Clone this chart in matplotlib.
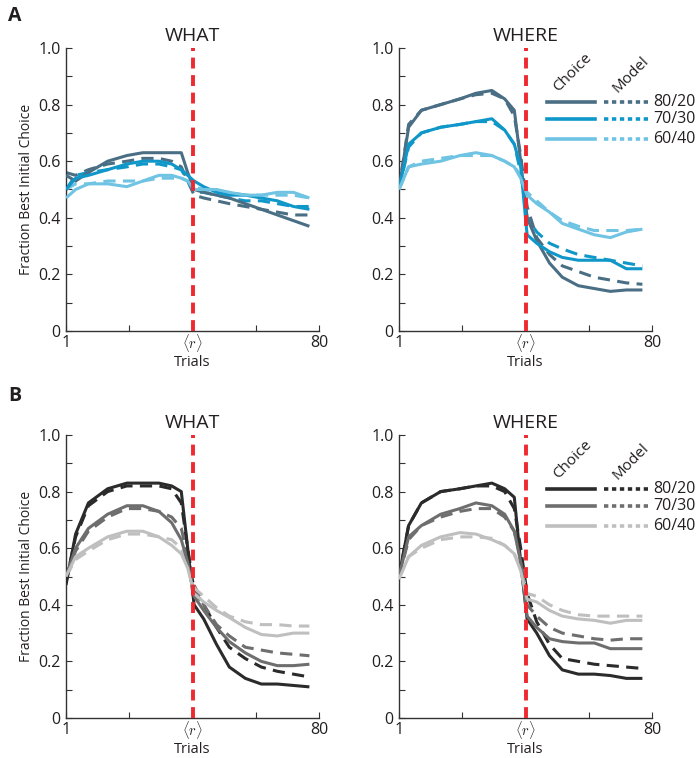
import numpy as np
import matplotlib
matplotlib.use('Agg')
import matplotlib.pyplot as plt
import matplotlib.transforms as mtransforms

plt.rcParams['font.family'] = ['Open Sans', 'DejaVu Sans']
plt.rcParams['mathtext.fontset'] = 'cm'

# Trial positions where the curves were sampled (reversal near trial 40)
trials = [1, 4, 8, 14, 20, 25, 30, 34, 37, 39, 41, 44, 48, 52, 57, 62, 67, 72, 77]
reversal = 40.5
conditions = ['80/20', '70/30', '60/40']

# Panel A (WHAT / WHERE), choice and model curves per condition
a_what_choice = [
    [0.55, 0.53, 0.56, 0.60, 0.62, 0.63, 0.63, 0.63, 0.63, 0.56, 0.50, 0.49, 0.48, 0.47, 0.45, 0.43, 0.41, 0.39, 0.37],
    [0.50, 0.54, 0.55, 0.57, 0.59, 0.60, 0.60, 0.59, 0.57, 0.55, 0.53, 0.51, 0.49, 0.48, 0.48, 0.47, 0.46, 0.44, 0.43],
    [0.47, 0.50, 0.52, 0.52, 0.51, 0.53, 0.55, 0.55, 0.54, 0.53, 0.50, 0.50, 0.50, 0.49, 0.48, 0.48, 0.49, 0.49, 0.47],
]
a_what_model = [
    [0.56, 0.55, 0.57, 0.59, 0.60, 0.61, 0.61, 0.60, 0.58, 0.53, 0.48, 0.47, 0.46, 0.45, 0.44, 0.43, 0.42, 0.41, 0.41],
    [0.50, 0.55, 0.56, 0.57, 0.58, 0.59, 0.59, 0.58, 0.57, 0.53, 0.49, 0.49, 0.48, 0.47, 0.46, 0.46, 0.45, 0.44, 0.44],
    [0.50, 0.52, 0.52, 0.53, 0.53, 0.53, 0.54, 0.54, 0.54, 0.53, 0.51, 0.50, 0.49, 0.49, 0.48, 0.48, 0.48, 0.48, 0.47],
]
a_where_choice = [
    [0.50, 0.72, 0.78, 0.80, 0.82, 0.84, 0.85, 0.82, 0.78, 0.60, 0.40, 0.32, 0.24, 0.19, 0.16, 0.15, 0.14, 0.145, 0.145],
    [0.50, 0.66, 0.70, 0.72, 0.73, 0.74, 0.75, 0.71, 0.66, 0.58, 0.34, 0.31, 0.28, 0.26, 0.25, 0.25, 0.25, 0.22, 0.22],
    [0.50, 0.58, 0.59, 0.60, 0.62, 0.63, 0.62, 0.60, 0.58, 0.54, 0.48, 0.45, 0.42, 0.38, 0.36, 0.34, 0.33, 0.35, 0.36],
]
a_where_model = [
    [0.50, 0.73, 0.78, 0.80, 0.82, 0.835, 0.84, 0.82, 0.76, 0.62, 0.44, 0.33, 0.27, 0.23, 0.21, 0.19, 0.18, 0.17, 0.165],
    [0.50, 0.65, 0.70, 0.72, 0.73, 0.74, 0.74, 0.71, 0.66, 0.56, 0.40, 0.35, 0.31, 0.29, 0.27, 0.26, 0.25, 0.24, 0.23],
    [0.50, 0.58, 0.60, 0.61, 0.62, 0.62, 0.62, 0.60, 0.58, 0.55, 0.49, 0.46, 0.42, 0.39, 0.37, 0.355, 0.355, 0.355, 0.36],
]

# Panel B
b_what_choice = [
    [0.47, 0.65, 0.76, 0.81, 0.83, 0.83, 0.83, 0.82, 0.80, 0.60, 0.40, 0.35, 0.26, 0.18, 0.14, 0.12, 0.12, 0.115, 0.11],
    [0.50, 0.60, 0.67, 0.72, 0.75, 0.75, 0.73, 0.69, 0.63, 0.55, 0.43, 0.38, 0.32, 0.27, 0.23, 0.20, 0.185, 0.185, 0.19],
    [0.50, 0.57, 0.60, 0.64, 0.66, 0.66, 0.64, 0.61, 0.58, 0.53, 0.44, 0.41, 0.38, 0.355, 0.32, 0.295, 0.29, 0.30, 0.30],
]
b_what_model = [
    [0.48, 0.64, 0.75, 0.80, 0.82, 0.82, 0.82, 0.81, 0.76, 0.60, 0.45, 0.40, 0.32, 0.25, 0.21, 0.18, 0.165, 0.155, 0.145],
    [0.50, 0.59, 0.66, 0.71, 0.74, 0.74, 0.73, 0.71, 0.67, 0.57, 0.47, 0.40, 0.33, 0.29, 0.25, 0.24, 0.23, 0.225, 0.22],
    [0.50, 0.56, 0.59, 0.63, 0.65, 0.65, 0.64, 0.63, 0.60, 0.55, 0.46, 0.43, 0.39, 0.36, 0.34, 0.33, 0.33, 0.325, 0.325],
]
b_where_choice = [
    [0.50, 0.68, 0.76, 0.80, 0.81, 0.82, 0.83, 0.81, 0.78, 0.55, 0.35, 0.30, 0.22, 0.17, 0.155, 0.155, 0.15, 0.14, 0.14],
    [0.50, 0.64, 0.68, 0.72, 0.74, 0.76, 0.75, 0.72, 0.66, 0.55, 0.36, 0.32, 0.28, 0.27, 0.265, 0.265, 0.245, 0.245, 0.245],
    [0.49, 0.57, 0.61, 0.64, 0.655, 0.65, 0.63, 0.61, 0.58, 0.52, 0.42, 0.41, 0.38, 0.36, 0.35, 0.345, 0.335, 0.345, 0.345],
]
b_where_model = [
    [0.50, 0.68, 0.76, 0.80, 0.81, 0.82, 0.82, 0.80, 0.74, 0.60, 0.44, 0.34, 0.26, 0.21, 0.20, 0.19, 0.185, 0.18, 0.175],
    [0.50, 0.63, 0.68, 0.71, 0.73, 0.74, 0.74, 0.71, 0.66, 0.56, 0.40, 0.36, 0.32, 0.30, 0.29, 0.28, 0.275, 0.28, 0.28],
    [0.50, 0.57, 0.60, 0.63, 0.64, 0.64, 0.635, 0.61, 0.58, 0.53, 0.44, 0.43, 0.40, 0.38, 0.365, 0.36, 0.36, 0.36, 0.36],
]

blues = ['#4a6f85', '#1097c9', '#6fc3e3']
grays = ['#2b2b2b', '#6e6e6e', '#bfbfbf']
text_col = '#231f20'

fig = plt.figure(figsize=(7, 7.58), dpi=100)

w = 253 / 700
h = 283 / 758
panels = [
    (66 / 700, (758 - 331) / 758, 'WHAT', a_what_choice, a_what_model, blues, True, False),
    (399 / 700, (758 - 331) / 758, 'WHERE', a_where_choice, a_where_model, blues, False, True),
    (66 / 700, (758 - 718) / 758, 'WHAT', b_what_choice, b_what_model, grays, True, False),
    (399 / 700, (758 - 718) / 758, 'WHERE', b_where_choice, b_where_model, grays, False, True),
]

for left, bottom, title, choice, model, cols, ylab, legend in panels:
    ax = fig.add_axes([left, bottom, w, h])
    for i in range(3):
        ax.plot(trials, choice[i], color=cols[i], lw=2.2, solid_capstyle='butt', zorder=3)
        ax.plot(trials, model[i], color=cols[i], lw=2.2, dashes=(4, 2.4), zorder=2)
    ax.plot([reversal, reversal], [0, 1], color='#ee2a30', lw=2.8, dashes=(2.8, 1.7), zorder=5, clip_on=False)

    ax.set_xlim(1, 80)
    ax.set_ylim(0, 1)
    ax.set_xticks([1, 20.75, reversal, 60.25, 80])
    ax.set_xticklabels(['1', '', '', '', '80'])
    ax.set_yticks([0, 0.2, 0.4, 0.6, 0.8, 1.0])
    ax.set_yticklabels(['0', '0.2', '0.4', '0.6', '0.8', '1.0'])
    ax.set_yticks(np.arange(0.1, 1.0, 0.2), minor=True)
    ax.tick_params(direction='in', length=4, width=0.8, colors='#333333', labelcolor=text_col, labelsize=11.5, pad=4)
    ax.tick_params(axis='x', pad=3)
    ax.tick_params(which='minor', direction='in', length=4, width=0.8, colors='#333333')
    for s in ['top', 'right']:
        ax.spines[s].set_visible(False)
    for s in ['left', 'bottom']:
        ax.spines[s].set_color('#333333')
        ax.spines[s].set_linewidth(1.0)

    # reversal tick label, placed by hand so the math glyphs sit level with "1" and "80"
    trans = mtransforms.blended_transform_factory(ax.transData, ax.transAxes)
    ax.text(reversal, -0.042, r'$\langle r\rangle$', transform=trans, fontsize=10.5,
            color=text_col, ha='center', va='center')
    ax.text(0.5, -0.112, 'Trials', transform=ax.transAxes, fontsize=10.5, color=text_col,
            ha='center', va='center')
    ax.set_title(title, fontsize=14, color=text_col, pad=5)
    if ylab:
        ax.set_ylabel('Fraction Best Initial Choice', fontsize=10, color=text_col, labelpad=3)

    if legend:
        rows = [0.81, 0.75, 0.68]
        for i in range(3):
            ax.plot([47.2, 62.2], [rows[i], rows[i]], color=cols[i], lw=2.6, clip_on=False, zorder=4)
            ax.plot([65, 78.7], [rows[i], rows[i]], color=cols[i], lw=2.6, dashes=(1.2, 1.0), clip_on=False, zorder=4)
            ax.text(80.5, rows[i], conditions[i], fontsize=11.5, color=text_col, va='center', ha='left')
        ax.text(55.3, 0.915, 'Choice', rotation=45, fontsize=11, color=text_col, ha='center', va='center')
        ax.text(73.4, 0.905, 'Model', rotation=45, fontsize=11, color=text_col, ha='center', va='center')

fig.text(8 / 700, 1 - 16 / 758, 'A', fontsize=14, fontweight='bold', color=text_col, va='center', ha='left')
fig.text(8 / 700, 1 - 396 / 758, 'B', fontsize=14, fontweight='bold', color=text_col, va='center', ha='left')

fig.savefig('out.png', dpi=100)
